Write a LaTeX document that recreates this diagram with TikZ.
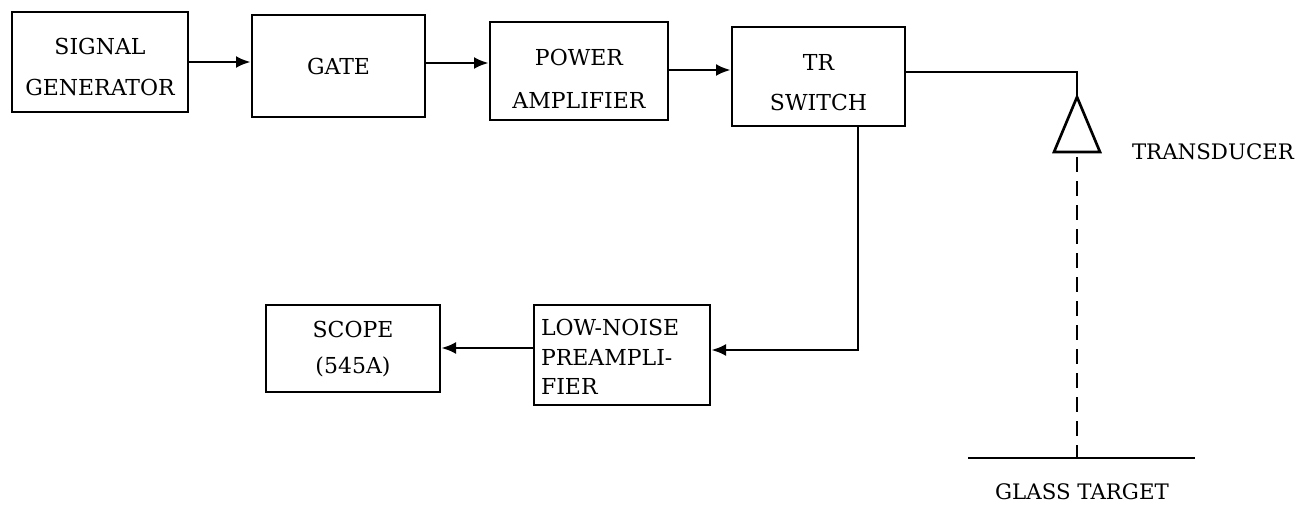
\documentclass[tikz,border=0pt]{standalone}
\usepackage{fontspec}
\setmainfont{DejaVu Serif}
\usetikzlibrary{arrows.meta}
\newcommand{\pxu}{0.75pt}
\tikzset{
  blk/.style={draw, line width=2pt, inner sep=0pt},
  txt/.style={align=center, inner sep=0pt},
  arr/.style={line width=2pt, -{Latex[length=11pt,width=9pt]}},
  wire/.style={line width=2pt},
  lbl/.style={font=\fontsize{16}{20}\selectfont, inner sep=0pt}
}
\begin{document}
\begin{tikzpicture}[x=0.75pt,y=-0.75pt]
\useasboundingbox (0,0) rectangle (1302,506);
\node[blk, minimum width=176*\pxu, minimum height=100*\pxu,
  label={[txt, font=\fontsize{16.5}{31}\selectfont, yshift=-3.75pt]center:{SIGNAL\\GENERATOR}}] (sg) at (100,62) {};
\node[blk, minimum width=173*\pxu, minimum height=102*\pxu,
  label={[txt, font=\fontsize{16.5}{31}\selectfont]center:{GATE}}] (gate) at (338.5,66) {};
\node[blk, minimum width=178*\pxu, minimum height=98*\pxu,
  label={[txt, font=\fontsize{16.5}{32}\selectfont, yshift=-5.75pt]center:{POWER\\AMPLIFIER}}] (pa) at (579,71) {};
\node[blk, minimum width=173*\pxu, minimum height=99*\pxu,
  label={[txt, font=\fontsize{16.5}{30}\selectfont, yshift=-4.5pt]center:{TR\\SWITCH}}] (tr) at (818.5,76.5) {};
\node[blk, minimum width=174*\pxu, minimum height=87*\pxu,
  label={[txt, font=\fontsize{16.5}{27}\selectfont, yshift=-0.75pt]center:{SCOPE\\(545A)}}] (scope) at (353,348.5) {};
\node[blk, minimum width=176*\pxu, minimum height=100*\pxu,
  label={[txt, align=left, text width=162*\pxu, font=\fontsize{16.5}{22}\selectfont, yshift=-1.5pt]center:{LOW-NOISE\\PREAMPLI-\\FIER}}] (pre) at (622,355) {};

\draw[arr] (sg.east) -- (sg.east -| gate.west);
\draw[arr] (gate.east |- 0,63) -- (pa.west |- 0,63);
\draw[arr] (pa.east |- 0,70) -- (tr.west |- 0,70);

\coordinate (apex) at (1077,97);
\coordinate (bl) at (1054,152);
\coordinate (br) at (1100,152);
\coordinate (dtop) at (1077,157);
\coordinate (dbot) at (1077,458);
\coordinate (gl) at (968,458);
\coordinate (gr) at (1195,458);
\draw[wire] (tr.east |- 0,72) -- (apex |- 0,72) -- (apex);
\draw[wire, line join=miter] (apex) -- (bl) -- (br) -- cycle;
\draw[wire, dash pattern=on 11pt off 7pt] (dtop) -- (dbot);
\draw[wire] (gl) -- (gr);
\node[lbl] (tlab) at (1213,152) {TRANSDUCER};
\node[lbl] (glab) at (1082,492) {GLASS TARGET};

\coordinate (drop) at (858,0);
\draw[arr] (drop |- tr.south) -- (drop |- 0,350) -- (pre.east |- 0,350);
\draw[arr] (pre.west |- 0,348) -- (scope.east |- 0,348);
\end{tikzpicture}
\end{document}
